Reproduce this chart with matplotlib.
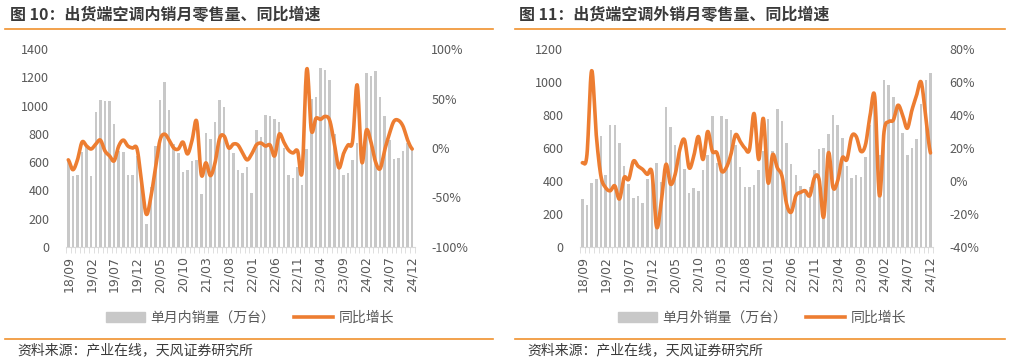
import matplotlib.pyplot as plt
import numpy as np
from matplotlib.lines import Line2D
from matplotlib.patches import Patch
from matplotlib.ticker import FuncFormatter, FixedLocator

plt.rcParams['font.family'] = ['Noto Sans CJK SC', 'DejaVu Sans']

# 月份刻度 (18/09 - 24/12, 每5个月一个标签)
tick_labels = ['18/09', '19/02', '19/07', '19/12', '20/05', '20/10', '21/03', '21/08',
               '22/01', '22/06', '22/11', '23/04', '23/09', '24/02', '24/07', '24/12']

# 图10: 内销 (万台) 与同比 (%)
dom_sales = [615, 501, 508, 670, 720, 500, 957, 1040, 1033, 1033,
             870, 680, 670, 508, 508, 640, 470, 160, 425, 714,
             1040, 1170, 970, 730, 667, 532, 542, 605, 615, 371,
             804, 764, 882, 1040, 988, 690, 667, 542, 520, 568,
             381, 828, 776, 934, 925, 906, 882, 698, 508, 487,
             563, 438, 690, 1045, 1060, 1265, 1253, 1180, 797, 560,
             508, 520, 615, 733, 605, 1234, 1210, 1246, 1060, 927,
             757, 620, 629, 681, 733, 690]
dom_yoy = [-12, -22, -12, 6, 2, -1, 4, 8, -3, -8,
           -13, 2, 8, 2, 0, -1, -35, -67, -50, -20,
           8, 14, 8, 0, -1, 6, -6, 8, 27, -27,
           -15, -28, -15, 10, 12, 0, 4, 3, -5, -12,
           -6, 3, 5, 2, 3, -8, 14, 6, -2, -5,
           -3, -24, 80, 18, 30, 29, 32, 28, 5, -20,
           -6, 3, 7, 64, -14, 18, 6, -14, -21, -2,
           14, 27, 28, 22, 8, -1]

# 图11: 外销 (万台) 与同比 (%)
exp_sales = [288, 253, 389, 410, 673, 436, 740, 740, 628, 490,
             381, 298, 308, 264, 410, 435, 508, 392, 847, 727,
             618, 585, 472, 328, 355, 338, 466, 557, 795, 510,
             795, 775, 709, 618, 482, 365, 365, 375, 466, 582,
             775, 582, 837, 764, 629, 501, 434, 370, 350, 360,
             466, 592, 598, 683, 800, 740, 663, 491, 416, 436,
             425, 547, 740, 900, 560, 1013, 983, 912, 866, 689,
             557, 602, 655, 866, 1013, 1054]
exp_yoy = [11, 16, 67, 28, 3, -4, -6, -3, -11, 2,
           1, 12, 9, 7, 4, 5, -28, -13, 10, -2,
           4, 19, 25, 8, 15, 27, 13, 30, 18, 17,
           6, 8, 16, 28, 24, 20, 19, 41, 13, 38,
           -1, 16, 8, 3, -14, -19, -9, -7, -6, -9,
           2, 1, -22, 17, -4, 0, 14, 13, 27, 27,
           18, 22, 40, 51, -9, 30, 36, 37, 46, 40,
           32, 43, 52, 60, 38, 17]

BAR = '#C8C8C8'
ORANGE = '#ED7D31'
RULE = '#F0912E'
TXT = '#595959'
W, H = 1011, 361


def smooth(y, n=12):
    # 平滑曲线 (Catmull-Rom), 只用于画线
    y = np.asarray(y, float)
    p = np.concatenate([[y[0]], y, [y[-1]]])
    t = np.linspace(0, 1, n, endpoint=False)
    xs, ys = [], []
    for i in range(len(y) - 1):
        p0, p1, p2, p3 = p[i], p[i + 1], p[i + 2], p[i + 3]
        ys.append(0.5 * (2 * p1 + (-p0 + p2) * t + (2 * p0 - 5 * p1 + 4 * p2 - p3) * t ** 2
                         + (-p0 + 3 * p1 - 3 * p2 + p3) * t ** 3))
        xs.append(i + t)
    xs.append([len(y) - 1])
    ys.append([y[-1]])
    return np.concatenate(xs), np.concatenate(ys)


def px(x0, y_top, w, h):
    return [x0 / W, 1 - (y_top + h) / H, w / W, h / H]


def panel(fig, x0, x1, sales, yoy, ymax, ystep, y2min, y2max, y2step,
          title, bar_name, tx, rule_x, leg_x, src_x):
    ax = fig.add_axes(px(x0, 49.3, x1 - x0, 197.4))
    n = len(sales)
    x = np.arange(n)
    ax.bar(x, sales, width=0.55, color=BAR, zorder=1)
    ax.set_xlim(-0.5, n - 0.5)
    ax.set_ylim(0, ymax)
    ax.set_yticks(np.arange(0, ymax + 1, ystep))
    for s in ['top', 'right', 'left']:
        ax.spines[s].set_visible(False)
    ax.spines['bottom'].set_color('#D9D9D9')
    ax.xaxis.set_major_locator(FixedLocator(np.arange(0, n, 5)))
    ax.set_xticklabels(tick_labels, rotation=90, fontsize=9, color=TXT, family='DejaVu Sans')
    ax.xaxis.set_minor_locator(FixedLocator(np.arange(-0.5, n, 1)))
    ax.tick_params(axis='x', which='major', length=0, pad=7)
    ax.tick_params(axis='x', which='minor', length=4, color='#D9D9D9')
    ax.tick_params(axis='y', length=0, pad=12, labelsize=9, labelcolor=TXT)

    ax2 = ax.twinx()
    sx, sy = smooth(yoy)
    ax2.plot(sx, sy, color=ORANGE, lw=2.6, solid_capstyle='round', zorder=3)
    ax2.set_ylim(y2min, y2max)
    ax2.set_yticks(np.arange(y2min, y2max + 1, y2step))
    ax2.yaxis.set_major_formatter(FuncFormatter(lambda v, p: f"{v:.0f}%"))
    for s in ax2.spines.values():
        s.set_visible(False)
    ax2.tick_params(axis='y', length=0, pad=12, labelsize=9, labelcolor=TXT)

    fig.text(tx / W, 1 - 15 / H, title, fontsize=11.5, weight='bold', color='#3A3A3A',
             va='center', ha='left')
    fig.add_artist(Line2D([rule_x[0] / W, rule_x[1] / W], [1 - 29 / H] * 2, color=RULE, lw=1.2))
    fig.add_artist(Line2D([rule_x[0] / W, rule_x[1] / W], [1 - 339 / H] * 2, color=RULE, lw=1.2))
    fig.text(src_x / W, 1 - 350 / H, '资料来源：产业在线，天风证券研究所', fontsize=10,
             color='#3A3A3A', va='center', ha='left')

    handles = [Patch(color=BAR), Line2D([], [], color=ORANGE, lw=2.6)]
    fig.legend(handles, [bar_name, '同比增长'], loc='center', ncol=2, frameon=False,
               bbox_to_anchor=(leg_x / W, 1 - 318 / H), bbox_transform=fig.transFigure,
               fontsize=10, labelcolor=TXT, handlelength=2.8, handleheight=0.7,
               columnspacing=1.4, handletextpad=0.4)


fig = plt.figure(figsize=(W / 100, H / 100), dpi=100)

panel(fig, 66, 414.5, dom_sales, dom_yoy, 1400, 200, -100, 100, 50,
      '图 10：出货端空调内销月零售量、同比增速', '单月内销量（万台）',
      10, (5, 493), 250, 17)
panel(fig, 580, 932.8, exp_sales, exp_yoy, 1200, 200, -40, 80, 20,
      '图 11：出货端空调外销月零售量、同比增速', '单月外销量（万台）',
      519, (515, 1005), 762, 527)

fig.savefig('out.png', dpi=100)
